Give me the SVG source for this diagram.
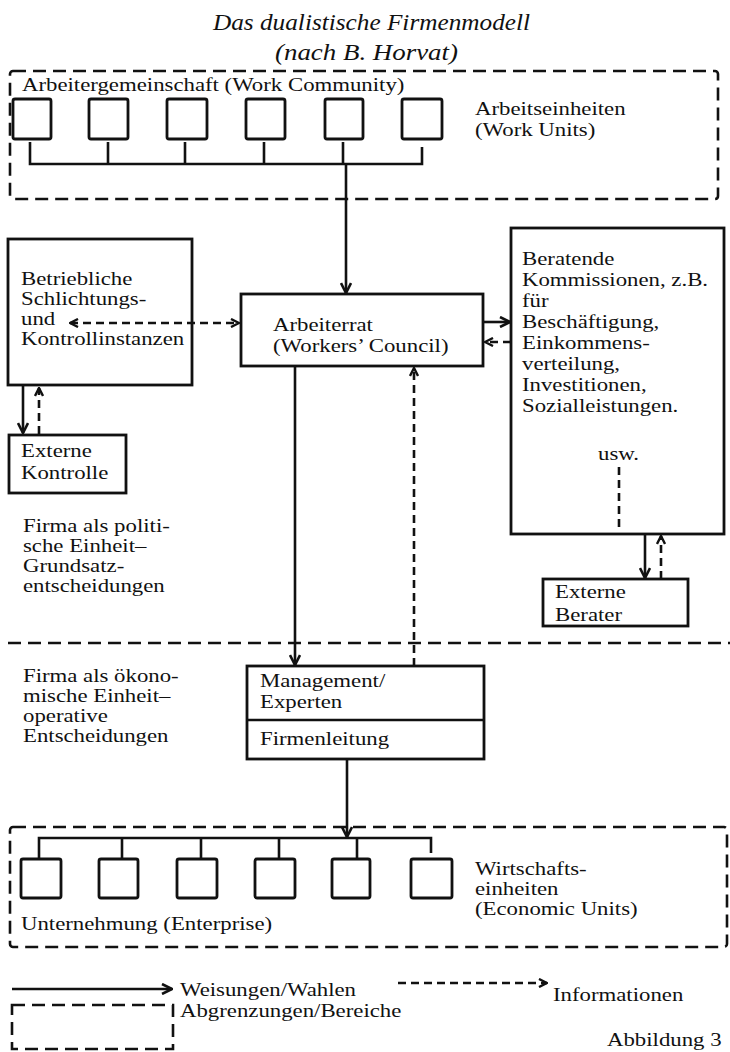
<svg xmlns="http://www.w3.org/2000/svg" width="730" height="1052" viewBox="0 0 730 1052">
<style>
.t{font-family:"Liberation Serif","Times New Roman",serif;font-size:19px;fill:#111}
.ti{font-family:"Liberation Serif","Times New Roman",serif;font-style:italic;font-size:23px;fill:#111}
.box{fill:#fff;stroke:#111;stroke-width:2.8}
.region{fill:none;stroke:#111;stroke-width:2.6;stroke-dasharray:13 7}
.solid{fill:none;stroke:#111;stroke-width:2.6}
.dash{fill:none;stroke:#111;stroke-width:2.6;stroke-dasharray:8 5}
</style>
<defs>
<marker id="arr" viewBox="0 0 12 12" refX="11" refY="6" markerWidth="12" markerHeight="12" markerUnits="userSpaceOnUse" orient="auto-start-reverse">
<path d="M1,1 L11,6 L1,11" fill="none" stroke="#111" stroke-width="2.6"/>
</marker>
<marker id="arrd" viewBox="0 0 10 10" refX="9" refY="5" markerWidth="10" markerHeight="10" markerUnits="userSpaceOnUse" orient="auto-start-reverse">
<path d="M1,1 L9,5 L1,9" fill="none" stroke="#111" stroke-width="2.4"/>
</marker>
</defs>
<rect width="730" height="1052" fill="#fff"/>

<g id="title">
<text class="ti" x="213" y="30" textLength="317" lengthAdjust="spacingAndGlyphs">Das dualistische Firmenmodell</text>
<text class="ti" x="275" y="60" textLength="183" lengthAdjust="spacingAndGlyphs">(nach B. Horvat)</text>
</g>

<g id="regions">
<rect class="region" x="10" y="71" width="708" height="128" rx="3"/>
<line class="region" x1="8" y1="643" x2="730" y2="643"/>
<rect class="region" x="10" y="827" width="717" height="120" rx="3"/>
</g>

<g id="work-community">
<text class="t" transform="scale(1.2 1)" x="18.33" y="91">Arbeitergemeinschaft (Work Community)</text>
<text class="t" transform="scale(1.2 1)" x="395.83" y="115">Arbeitseinheiten</text>
<text class="t" transform="scale(1.2 1)" x="395.83" y="136">(Work Units)</text>
<rect class="box" x="13" y="99" width="38" height="40" rx="2"/>
<rect class="box" x="89" y="99" width="39" height="40" rx="2"/>
<rect class="box" x="167" y="99" width="40" height="40" rx="2"/>
<rect class="box" x="246" y="99" width="39" height="40" rx="2"/>
<rect class="box" x="325" y="99" width="38" height="40" rx="2"/>
<rect class="box" x="402" y="99" width="40" height="40" rx="2"/>
</g>

<g id="schlichtung">
<rect class="box" x="8" y="239" width="184" height="146"/>
<text class="t" transform="scale(1.2 1)" x="17.5" y="285">Betriebliche</text>
<text class="t" transform="scale(1.2 1)" x="17.5" y="305">Schlichtungs-</text>
<text class="t" transform="scale(1.2 1)" x="17.5" y="325">und</text>
<text class="t" transform="scale(1.2 1)" x="17.5" y="345">Kontrollinstanzen</text>
</g>

<g id="externe-kontrolle">
<rect class="box" x="9" y="435" width="117" height="58"/>
<text class="t" transform="scale(1.2 1)" x="17.5" y="457">Externe</text>
<text class="t" transform="scale(1.2 1)" x="17.5" y="479">Kontrolle</text>
</g>

<g id="arbeiterrat">
<rect class="box" x="241" y="294" width="242" height="72"/>
<text class="t" transform="scale(1.2 1)" x="227.5" y="331">Arbeiterrat</text>
<text class="t" transform="scale(1.2 1)" x="227.5" y="352">(Workers’ Council)</text>
</g>

<g id="beratende">
<rect class="box" x="511" y="228" width="213" height="306"/>
<text class="t" transform="scale(1.2 1)" x="435" y="265">Beratende</text>
<text class="t" transform="scale(1.2 1)" x="435" y="286">Kommissionen, z.B.</text>
<text class="t" transform="scale(1.2 1)" x="435" y="307">für</text>
<text class="t" transform="scale(1.2 1)" x="435" y="328">Beschäftigung,</text>
<text class="t" transform="scale(1.2 1)" x="435" y="349">Einkommens-</text>
<text class="t" transform="scale(1.2 1)" x="435" y="370">verteilung,</text>
<text class="t" transform="scale(1.2 1)" x="435" y="391">Investitionen,</text>
<text class="t" transform="scale(1.2 1)" x="435" y="412">Sozialleistungen.</text>
<text class="t" transform="scale(1.2 1)" x="498.33" y="460">usw.</text>
</g>

<g id="externe-berater">
<rect class="box" x="543" y="579" width="145" height="47"/>
<text class="t" transform="scale(1.2 1)" x="462.5" y="598">Externe</text>
<text class="t" transform="scale(1.2 1)" x="462.5" y="621">Berater</text>
</g>

<g id="politische-einheit">
<text class="t" transform="scale(1.2 1)" x="19.17" y="532">Firma als politi-</text>
<text class="t" transform="scale(1.2 1)" x="19.17" y="552">sche Einheit–</text>
<text class="t" transform="scale(1.2 1)" x="19.17" y="572">Grundsatz-</text>
<text class="t" transform="scale(1.2 1)" x="19.17" y="592">entscheidungen</text>
</g>

<g id="oekonomische-einheit">
<text class="t" transform="scale(1.2 1)" x="19.17" y="682">Firma als ökono-</text>
<text class="t" transform="scale(1.2 1)" x="19.17" y="702">mische Einheit–</text>
<text class="t" transform="scale(1.2 1)" x="19.17" y="722">operative</text>
<text class="t" transform="scale(1.2 1)" x="19.17" y="742">Entscheidungen</text>
</g>

<g id="management">
<rect class="box" x="247" y="666" width="237" height="93"/>
<line class="solid" x1="247" y1="720" x2="484" y2="720"/>
<text class="t" transform="scale(1.2 1)" x="216.67" y="687">Management/</text>
<text class="t" transform="scale(1.2 1)" x="216.67" y="708">Experten</text>
<text class="t" transform="scale(1.2 1)" x="216.67" y="745">Firmenleitung</text>
</g>

<g id="enterprise">
<rect class="box" x="21" y="859" width="40" height="39" rx="2"/>
<rect class="box" x="99" y="859" width="39" height="39" rx="2"/>
<rect class="box" x="177" y="859" width="40" height="39" rx="2"/>
<rect class="box" x="255" y="859" width="40" height="39" rx="2"/>
<rect class="box" x="332" y="859" width="38" height="39" rx="2"/>
<rect class="box" x="411" y="859" width="41" height="39" rx="2"/>
<text class="t" transform="scale(1.2 1)" x="17.5" y="930">Unternehmung (Enterprise)</text>
<text class="t" transform="scale(1.2 1)" x="395.83" y="875">Wirtschafts-</text>
<text class="t" transform="scale(1.2 1)" x="395.83" y="895">einheiten</text>
<text class="t" transform="scale(1.2 1)" x="395.83" y="915">(Economic Units)</text>
</g>

<g id="connectors">
<path class="solid" d="M30,142 V164 H422 V147 M108,142 V164 M185,142 V164 M264,142 V164 M343,142 V164"/>
<line class="solid" x1="346" y1="164" x2="346" y2="293" marker-end="url(#arr)"/>
<line class="dash" x1="70" y1="323" x2="239" y2="323" marker-start="url(#arrd)" marker-end="url(#arrd)"/>
<line class="solid" x1="23" y1="385" x2="23" y2="433" marker-end="url(#arr)"/>
<line class="dash" x1="39" y1="434" x2="39" y2="388" marker-end="url(#arrd)"/>
<line class="solid" x1="483" y1="322" x2="510" y2="322" marker-end="url(#arr)"/>
<line class="dash" x1="511" y1="342" x2="485" y2="342" marker-end="url(#arrd)"/>
<line class="solid" x1="295" y1="366" x2="295" y2="665" marker-end="url(#arr)"/>
<line class="dash" x1="414" y1="666" x2="414" y2="368" marker-end="url(#arrd)"/>
<line class="dash" x1="619" y1="467" x2="619" y2="527"/>
<line class="solid" x1="645" y1="534" x2="645" y2="578" marker-end="url(#arr)"/>
<line class="dash" x1="661" y1="579" x2="661" y2="536" marker-end="url(#arrd)"/>
<line class="solid" x1="347" y1="759" x2="347" y2="837" marker-end="url(#arr)"/>
<path class="solid" d="M39,859 V838 H431 V853 M122,838 V859 M201,838 V859 M279,838 V859 M357,838 V859"/>
</g>

<g id="legend">
<line class="solid" x1="12" y1="989" x2="172" y2="989" marker-end="url(#arr)"/>
<text class="t" transform="scale(1.2 1)" x="150" y="996">Weisungen/Wahlen</text>
<line class="dash" x1="398" y1="983" x2="547" y2="983" marker-end="url(#arrd)"/>
<text class="t" transform="scale(1.2 1)" x="460.83" y="1001">Informationen</text>
<rect class="region" x="12" y="1005" width="161" height="44"/>
<text class="t" transform="scale(1.2 1)" x="150" y="1017">Abgrenzungen/Bereiche</text>
<text class="t" transform="scale(1.2 1)" x="505.83" y="1046">Abbildung 3</text>
</g>
</svg>
